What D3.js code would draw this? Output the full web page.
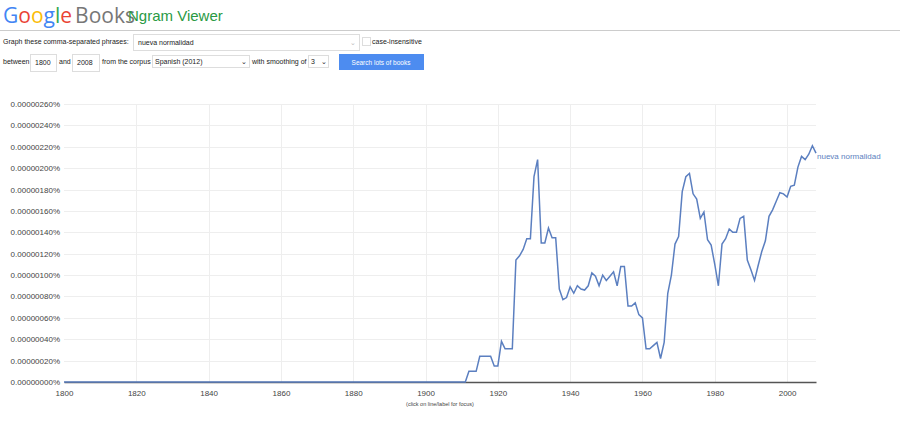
<!DOCTYPE html>
<html><head><meta charset="utf-8">
<script src="https://cdn.jsdelivr.net/npm/d3@7/dist/d3.min.js"></script>
<style>
body{margin:0;background:#fff;font-family:Arial,"Liberation Sans",sans-serif;}
</style></head><body>
<svg id="c" width="900" height="431"></svg>
<script>
const phrase = "nueva normalidad";
const startYear = 1800, endYear = 2008;
// values in units of 0.00000001 %
const years1912on = [1912,1913,1914,1915,1916,1917,1918,1919,1920,1921,1922,1923,1924,1925,1926,1927,1928,1929,1930,1931,1932,1933,1934,1935,1936,1937,1938,1939,1940,1941,1942,1943,1944,1945,1946,1947,1948,1949,1950,1951,1952,1953,1954,1955,1956,1957,1958,1959,1960,1961,1962,1963,1964,1965,1966,1967,1968,1969,1970,1971,1972,1973,1974,1975,1976,1977,1978,1979,1980,1981,1982,1983,1984,1985,1986,1987,1988,1989,1990,1991,1992,1993,1994,1995,1996,1997,1998,1999,2000,2001,2002,2003,2004,2005,2006,2007,2008];
const values1912on = [10,10,10,24,24,24,24,15,15,38,31,31,31,114,118,124,134,134,192,208,130,130,144,135,135,87,77,79,89,83,90,87,86,90,102,99,90,100,95,99,103,90,108,108,71,71,74,63,60,31,31,34,37,22,37,83,100,129,136,178,192,195,176,171,153,159,133,128,110,90,129,134,143,140,140,153,155,114,105,95,109,122,132,155,161,169,177,176,173,183,184,201,211,208,213,221,214];
const yTicks = [0,20,40,60,80,100,120,140,160,180,200,220,240,260];
const xTicks = [1800,1820,1840,1860,1880,1900,1920,1940,1960,1980,2000];

const data = [];
for (let y = startYear; y < years1912on[0]; y++) data.push({year:y, v:0});
years1912on.forEach((y,i)=>data.push({year:y, v:values1912on[i]}));

const svg = d3.select("#c");
const logo = svg.append("text").attr("x",3).attr("y",23).style("font-size","21px").style("font-family","'Open Sans',Arial,sans-serif");
[["G","#4285f4"],["o","#ea4335"],["o","#fbbc05"],["g","#4285f4"],["l","#34a853"],["e","#ea4335"]].forEach(([c,col])=>logo.append("tspan").attr("fill",col).text(c));
logo.append("tspan").attr("fill","#777").attr("dx",3).text("Books");
svg.append("text").attr("x",128).attr("y",21).attr("fill","#2a9a44").style("font-size","15px").text("Ngram Viewer");
svg.append("line").attr("x1",0).attr("x2",900).attr("y1",30.5).attr("y2",30.5).attr("stroke","#ccc");
function txt(x,y,t){return svg.append("text").attr("x",x).attr("y",y).attr("fill","#222").style("font-size","7px").text(t);}
function box(x,y,w,h){svg.append("rect").attr("x",x+.5).attr("y",y+.5).attr("width",w).attr("height",h).attr("fill","#fff").attr("stroke","#ddd");}
txt(3,44,"Graph these comma-separated phrases:");
box(133,34,226,16); txt(138,45,phrase);
svg.append("text").attr("x",350).attr("y",45).attr("fill","#bbb").style("font-size","7px").text("⌄");
box(362,37,8,8); txt(372,44,"case-insensitive");
txt(3,64,"between"); box(30,54,26,17); txt(35,65,String(startYear));
txt(59,64,"and"); box(72,54,27,17); txt(77,65,String(endYear));
txt(102,64,"from the corpus"); box(152,55,97,12); txt(155,64,"Spanish (2012)");
txt(241,64,"⌄");
txt(252,64,"with smoothing of"); box(308,55,20,12); txt(311,64,"3"); txt(321,64,"⌄");
svg.append("rect").attr("x",339).attr("y",54).attr("width",85).attr("height",16).attr("fill","#4d8cf0");
svg.append("text").attr("x",381).attr("y",64.5).attr("text-anchor","middle").attr("fill","#fff").style("font-size","6.5px").text("Search lots of books");

const x = d3.scaleLinear().domain([startYear,endYear]).range([64,816]);
const y = d3.scaleLinear().domain([0,260]).range([382,104]);
const g = svg.append("g");
g.selectAll(".hg").data(yTicks.slice(1)).join("line").attr("x1",64).attr("x2",816)
 .attr("y1",d=>Math.round(y(d))+.5).attr("y2",d=>Math.round(y(d))+.5).attr("stroke","#eee");
g.selectAll(".vg").data(xTicks.slice(1)).join("line").attr("y1",104).attr("y2",382)
 .attr("x1",d=>Math.round(x(d))+.5).attr("x2",d=>Math.round(x(d))+.5).attr("stroke","#eee");
g.selectAll(".yl").data(yTicks).join("text").attr("x",60).attr("y",d=>y(d)+3).attr("text-anchor","end")
 .attr("fill","#444").style("font-size","8px").text(d=>"0.00000"+String(d).padStart(3,"0")+"%");
const xa = g.append("g").attr("transform","translate(0,382)").call(d3.axisBottom(x).tickValues(xTicks).tickFormat(d3.format("d")).tickSize(0).tickPadding(8));
xa.select(".domain").attr("stroke","#555").attr("stroke-width",1.3);
xa.selectAll("text").attr("fill","#444").style("font-size","8px");
g.append("path").datum(data).attr("fill","none").attr("stroke","#5b7fc0").attr("stroke-width",1.5)
 .attr("d",d3.line().x(d=>x(d.year)).y(d=>y(d.v)));
const last = data[data.length-1];
g.append("text").attr("x",x(last.year)+1).attr("y",y(last.v)+6).attr("fill","#5b7fc0").style("font-size","8px").text(phrase);
svg.append("text").attr("x",440).attr("y",406).attr("text-anchor","middle").attr("fill","#444").style("font-size","5.5px").text("(click on line/label for focus)");
</script></body></html>
